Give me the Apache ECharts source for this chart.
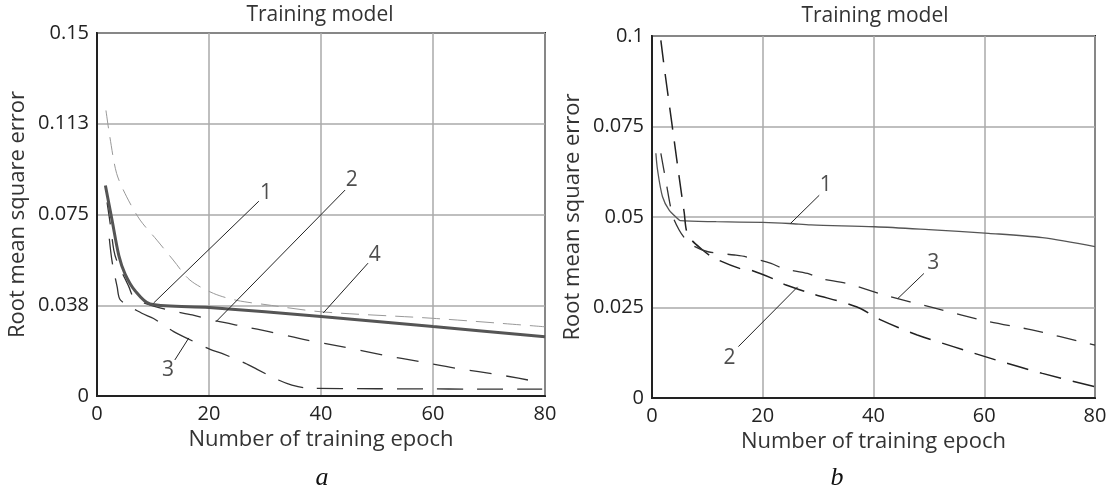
<!DOCTYPE html>
<html>
<head>
<meta charset="utf-8">
<script src="https://cdn.jsdelivr.net/npm/echarts@6/dist/echarts.min.js"></script>
<style>
  html,body{margin:0;padding:0;background:#fff;}
  #main{width:1117px;height:493px;}
</style>
</head>
<body>
<div id="main"></div>
<script>
// ---- chart a ----
var a1Epoch = [1.5, 2.7, 3.9, 5.0, 6.8, 9.5, 20, 40, 60, 80];
var a1Rmse  = [0.087, 0.0725, 0.058, 0.0505, 0.0435, 0.038, 0.0366, 0.0329, 0.0287, 0.0245];
var a2Epoch = [1.8, 2.4, 3.0, 3.6, 5.7, 6.5, 8.6, 12.8, 17, 21.3, 26.5, 30.7, 37.5, 43.7, 51.2, 57.6, 64.3, 72, 79.5];
var a2Rmse  = [0.08, 0.0706, 0.0603, 0.0555, 0.0451, 0.041, 0.0383, 0.0355, 0.0335, 0.031, 0.0286, 0.0266, 0.0231, 0.0204, 0.0169, 0.0142, 0.0114, 0.0087, 0.0055];
var a3Epoch = [2.2, 2.7, 3.6, 4.2, 8.0, 10.1, 13.7, 16.1, 20.2, 22.3, 26.5, 28.6, 32.4, 34.8, 37.5, 50, 79.5];
var a3Rmse  = [0.065, 0.0555, 0.0451, 0.0396, 0.0342, 0.032, 0.0266, 0.0238, 0.0193, 0.0176, 0.0135, 0.011, 0.0066, 0.0045, 0.0033, 0.003, 0.0028];
var a4Epoch = [1.6, 2.3, 3.5, 5.3, 7.7, 10.7, 13.6, 16.6, 20.8, 25, 30, 40, 60, 80];
var a4Rmse  = [0.118, 0.107, 0.092, 0.0823, 0.0727, 0.0644, 0.0562, 0.0479, 0.0424, 0.0395, 0.0378, 0.0348, 0.0321, 0.0286];
var aTicks  = [0, 0.0375, 0.075, 0.1125, 0.15];
// leader lines of chart a: name, label point, line start, line end
var aLeadName = ['1', '2', '3', '4'];
var aLeadText = [[30.2, 0.0838], [45.5, 0.0892], [12.7, 0.0107], [49.6, 0.0582]];
var aLeadFrom = [[28.9, 0.0805], [44.3, 0.0851], [13.9, 0.0149], [48.4, 0.0549]];
var aLeadTo   = [[10.1, 0.0384], [21.25, 0.0307], [16.4, 0.024], [40.4, 0.0343]];

// ---- chart b ----
var b1Epoch = [0.7, 1.0, 1.9, 3.1, 4.6, 5.1, 11.6, 20, 24.8, 28.7, 40.2, 50, 60.8, 70.5, 80];
var b1Rmse  = [0.0676, 0.063, 0.0556, 0.0519, 0.0496, 0.049, 0.0487, 0.0485, 0.0482, 0.0478, 0.0473, 0.0465, 0.0455, 0.0443, 0.0418];
var b2Epoch = [1.6, 2.2, 3.1, 4.0, 4.9, 5.8, 6.5, 9.2, 11.3, 15.8, 17.9, 22.4, 24.2, 28.7, 36.9, 41.4, 47.9, 54.4, 62.1, 70.5, 80];
var b2Rmse  = [0.0988, 0.0915, 0.0813, 0.0712, 0.0611, 0.0514, 0.045, 0.0408, 0.0386, 0.0358, 0.0353, 0.0326, 0.0312, 0.0289, 0.0252, 0.0215, 0.0174, 0.0142, 0.0105, 0.0068, 0.0031];
var b3Epoch = [1.6, 2.5, 3.7, 4.9, 6, 7.5, 10.1, 14.9, 17, 21.5, 23.6, 28.1, 30.5, 35, 42.1, 51.1, 60.8, 68.6, 80];
var b3Rmse  = [0.0676, 0.06, 0.0505, 0.0464, 0.044, 0.042, 0.0404, 0.0395, 0.039, 0.0372, 0.0358, 0.0344, 0.033, 0.0317, 0.0284, 0.0248, 0.0211, 0.0188, 0.0146];
var bLeadName = ['1', '2', '3'];
var bLeadText = [[31.4, 0.0588], [14.0, 0.011], [50.8, 0.0372]];
var bLeadFrom = [[30.2, 0.056], [15.6, 0.0142], [49.1, 0.0344]];
var bLeadTo   = [[25.0, 0.0482], [26.3, 0.0307], [44.4, 0.0275]];

var FONT = 'Open Sans';

function zip(xs, ys){
  var out = [];
  for (var i = 0; i < xs.length; i++) out.push([xs[i], ys[i]]);
  return out;
}

function curve(idx, xs, ys, color, width, dash){
  return {
    type: 'line', xAxisIndex: idx, yAxisIndex: idx,
    data: zip(xs, ys), showSymbol: false, symbol: 'none',
    smooth: 0.3,
    lineStyle: {color: color, width: width, type: dash},
    z: 3
  };
}

function leaders(idx, names, textAt, from, to){
  var lines = [], labels = [];
  for (var i = 0; i < names.length; i++){
    lines.push([{coord: from[i]}, {coord: to[i]}]);
    labels.push({name: names[i], value: textAt[i]});
  }
  return {
    type: 'scatter', xAxisIndex: idx, yAxisIndex: idx,
    data: labels, symbolSize: 0, silent: true,
    label: {show: true, position: 'inside', formatter: '{b}', color: '#222', fontSize: 21, fontFamily: FONT},
    markLine: {
      silent: true, symbol: ['none', 'none'], animation: false,
      label: {show: false},
      lineStyle: {color: '#222', width: 1, type: 'solid'},
      data: lines
    },
    z: 4
  };
}

function fmtA(v){
  if (v === 0) return '0';
  return String(Math.round(v * 1000 + 1e-6) / 1000);
}

var grids = [
  {left: 97, top: 33, width: 448, height: 363, show: true, borderColor: '#222', borderWidth: 2},
  {left: 652, top: 36, width: 443, height: 362, show: true, borderColor: '#222', borderWidth: 2}
];

function xAxis(idx){
  return {
    type: 'value', gridIndex: idx, min: 0, max: 80, interval: 20,
    name: 'Number of training epoch', nameLocation: 'middle', nameGap: 31,
    nameTextStyle: {color: '#333', fontSize: 22, fontFamily: FONT},
    axisLine: {show: true, lineStyle: {color: '#222', width: 2}},
    axisTick: {show: false},
    axisLabel: {color: '#222', fontSize: 20, fontFamily: FONT, margin: 8},
    splitLine: {show: true, lineStyle: {color: '#aaa', width: 1.5}}
  };
}

function yAxis(idx, max, interval, fmt){
  return {
    type: 'value', gridIndex: idx, min: 0, max: max, interval: interval,
    name: 'Root mean square error', nameLocation: 'middle', nameGap: 68,
    nameTextStyle: {color: '#333', fontSize: 22, fontFamily: FONT},
    axisLine: {show: true, lineStyle: {color: '#222', width: 2}},
    axisTick: {show: false},
    axisLabel: {color: '#222', fontSize: 20, fontFamily: FONT, margin: 8, formatter: fmt},
    splitLine: {show: true, lineStyle: {color: '#aaa', width: 1.5}}
  };
}

var myChart = echarts.init(document.getElementById('main'));
var option = {
  backgroundColor: '#fff',
  animation: false,
  grid: grids,
  xAxis: [xAxis(0), xAxis(1)],
  yAxis: [yAxis(0, aTicks[aTicks.length - 1], aTicks[1], fmtA), yAxis(1, 0.1, 0.025)],
  graphic: [
    {type: 'text', x: 320, y: 15, style: {text: 'Training model', fill: '#333', fontSize: 21, fontFamily: FONT, textAlign: 'center', textVerticalAlign: 'middle'}},
    {type: 'text', x: 875, y: 16, style: {text: 'Training model', fill: '#333', fontSize: 21, fontFamily: FONT, textAlign: 'center', textVerticalAlign: 'middle'}},
    {type: 'text', x: 322, y: 478, style: {text: 'a', fill: '#111', fontSize: 26, fontStyle: 'italic', fontFamily: 'Liberation Serif', textAlign: 'center', textVerticalAlign: 'middle'}},
    {type: 'text', x: 837, y: 478, style: {text: 'b', fill: '#111', fontSize: 26, fontStyle: 'italic', fontFamily: 'Liberation Serif', textAlign: 'center', textVerticalAlign: 'middle'}}
  ],
  series: [
    curve(0, a4Epoch, a4Rmse, '#999', 1, [18, 9]),
    curve(0, a3Epoch, a3Rmse, '#333', 1.3, [26, 14]),
    curve(0, a2Epoch, a2Rmse, '#333', 1.3, [22, 15]),
    curve(0, a1Epoch, a1Rmse, '#555', 3, 'solid'),
    leaders(0, aLeadName, aLeadText, aLeadFrom, aLeadTo),
    curve(1, b1Epoch, b1Rmse, '#555', 1.3, 'solid'),
    curve(1, b2Epoch, b2Rmse, '#222', 1.5, [22, 12]),
    curve(1, b3Epoch, b3Rmse, '#333', 1.3, [20, 14]),
    leaders(1, bLeadName, bLeadText, bLeadFrom, bLeadTo)
  ]
};
myChart.setOption(option);
</script>
</body>
</html>
